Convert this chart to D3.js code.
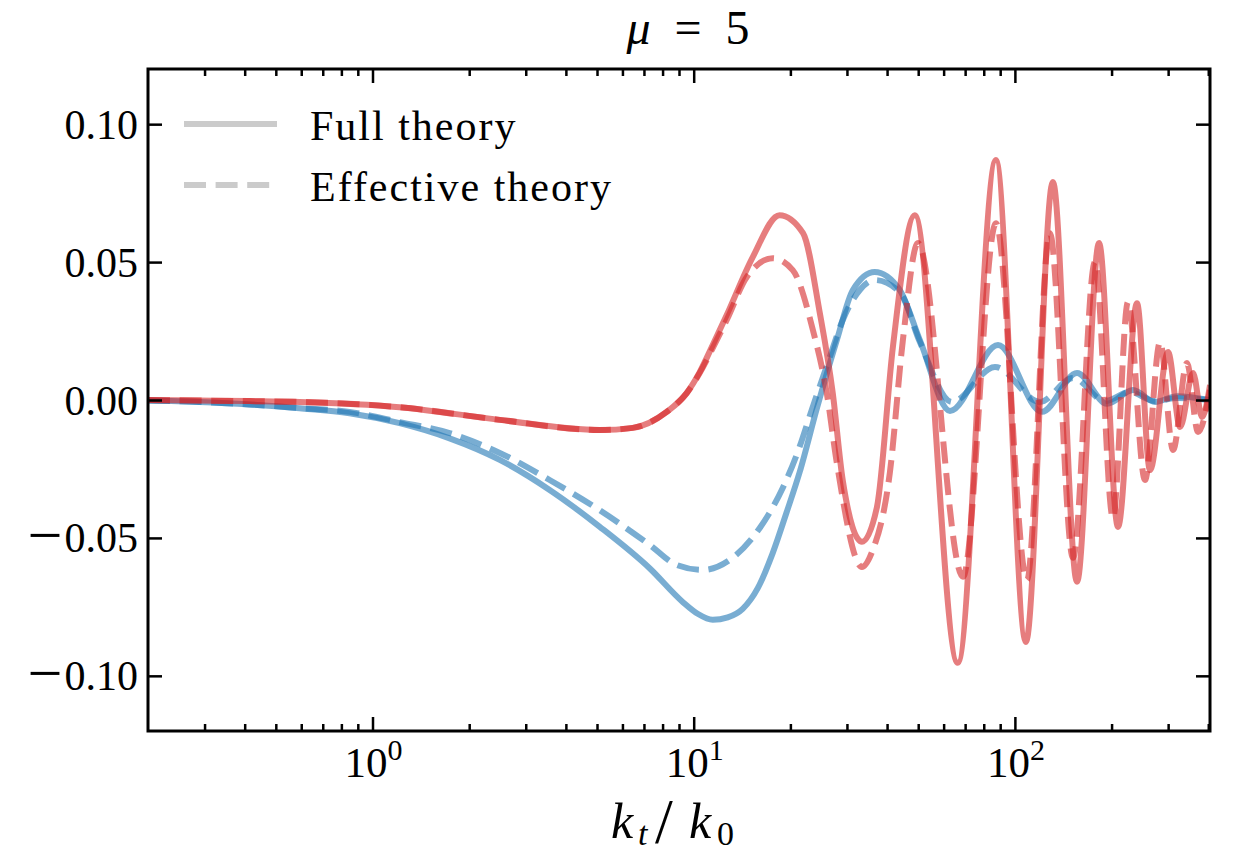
<!DOCTYPE html>
<html>
<head>
<meta charset="utf-8">
<script src="https://cdn.jsdelivr.net/npm/d3@7"></script>
<style>
  body { margin: 0; background: #fff; }
  text { font-family: "Liberation Serif", "DejaVu Serif", serif; fill: #000; }
</style>
</head>
<body>
<svg id="chart" width="1236" height="857"></svg>
<script>
// values: [k_t/k_0, value]
const blueFull = [
  [0.2, -0.0002], [0.289, -0.0007], [0.414, -0.0016], [0.593, -0.0030], [0.848, -0.0048],
  [1.214, -0.0084], [1.738, -0.0139], [2.49, -0.0217], [3.56, -0.0326], [5.09, -0.0459],
  [7.29, -0.0610], [9.24, -0.0732], [10.29, -0.0775], [11.46, -0.0797], [12.76, -0.0788],
  [14.21, -0.0757], [15.83, -0.0682], [17.62, -0.0555], [19.48, -0.0406], [21.38, -0.0261],
  [24.2, -0.0029], [27.9, 0.0217], [31.3, 0.0399], [36.6, 0.0464], [43.8, 0.0399],
  [50.6, 0.0217], [62.8, -0.0040], [88.6, 0.0199], [121.4, -0.0043], [156.1, 0.0098],
  [193.6, -0.0014], [233.2, 0.0036], [273.1, -0.0007], [320, 0.0014], [405, 0]
];
const blueEff = [
  [0.2, -0.0002], [0.289, -0.0007], [0.414, -0.0016], [0.593, -0.0029], [0.848, -0.0043],
  [1.214, -0.0080], [1.738, -0.0120], [2.49, -0.0192], [3.56, -0.0290], [5.09, -0.0399],
  [7.29, -0.0525], [8.85, -0.0598], [10.66, -0.0616], [13.22, -0.0572], [16.06, -0.0464],
  [18.93, -0.0319], [21.09, -0.0188], [23.31, -0.0036], [26.15, 0.0134], [29.12, 0.0290],
  [32.9, 0.0399], [36.6, 0.0435], [43.8, 0.0391], [50.6, 0.0210], [63.7, -0.0007],
  [86.7, 0.0120], [119.7, -0.0007], [151.7, 0.0080], [190.6, -0.0004], [228, 0.0029],
  [273.1, -0.0004], [320, 0.0007], [405, 0]
];
const redFull = [
  [0.2, 0], [0.289, -0.0002], [0.414, -0.0004], [0.593, -0.0007], [1.214, -0.0026],
  [2.49, -0.0072], [5.09, -0.0109], [6.46, -0.0101], [8.24, -0.0043], [9.51, 0.0025],
  [10.44, 0.0101], [11.46, 0.0199], [12.67, 0.0308], [15.27, 0.0518], [18.5, 0.0670],
  [21.9, 0.0605], [24.7, 0.0315], [27.1, 0.0025], [29.1, -0.0290], [33.4, -0.0514],
  [37.2, -0.0388], [41.7, 0.0192], [48.8, 0.0670], [66.4, -0.0953], [87.3, 0.0870],
  [108.2, -0.0877], [131.3, 0.0790], [156.1, -0.0659], [182.8, 0.0569], [209.4, -0.0460],
  [240, 0.0351], [263.4, -0.0254], [299.8, 0.0174], [326.8, -0.0098], [358.6, 0.0098],
  [382.6, -0.0062], [405, 0.0054]
];
const redEff = [
  [0.2, 0], [0.289, -0.0002], [0.414, -0.0004], [0.593, -0.0007], [1.214, -0.0026],
  [2.49, -0.0072], [5.09, -0.0109], [6.46, -0.0101], [8.24, -0.0043], [9.51, 0.0025],
  [10.44, 0.0098], [11.46, 0.0188], [12.67, 0.0290], [14.63, 0.0446], [17.62, 0.0514],
  [20.34, 0.0471], [23.5, 0.0254], [25.96, 0.0025], [27.9, -0.0228], [33.4, -0.0605],
  [35.9, -0.0551], [40.8, -0.0264], [44.8, 0.0217], [49.9, 0.0569], [68.9, -0.0641],
  [87.3, 0.0641], [109.0, -0.0652], [128.5, 0.0605], [151.7, -0.0572], [177.5, 0.0500],
  [202, -0.0428], [224.9, 0.0355], [254.1, -0.0290], [283.1, 0.0210], [310.8, -0.0181],
  [343.3, 0.0134], [371.7, -0.0116], [405, 0.0036]
];

const yTicks = [-0.10, -0.05, 0, 0.05, 0.10];
const xMajor = [1, 10, 100];
const xMajorExp = ["0", "1", "2"];
const legendLabels = ["Full theory", "Effective theory"];

const svg = d3.select("#chart");
const plotLeft = 148, plotRight = 1210, plotTop = 69, plotBottom = 731;

const x = d3.scaleLog().domain([0.2, 405]).range([plotLeft, plotRight]);
const y = d3.scaleLinear().domain([-0.12, 0.12]).range([plotBottom, plotTop]);

svg.append("clipPath").attr("id", "plot-clip")
  .append("rect").attr("x", plotLeft).attr("y", plotTop)
  .attr("width", plotRight - plotLeft).attr("height", plotBottom - plotTop);

// curves
const line = d3.line()
  .x(d => x(d[0]))
  .y(d => y(d[1]))
  .curve(d3.curveMonotoneX);

const series = [
  { data: blueFull, color: "#1f77b4", dash: null },
  { data: blueEff, color: "#1f77b4", dash: "22,9.6" },
  { data: redFull, color: "#d62728", dash: null },
  { data: redEff, color: "#d62728", dash: "22,9.6" }
];

const plot = svg.append("g").attr("clip-path", "url(#plot-clip)");
series.forEach(s => {
  plot.append("path")
    .attr("d", line(s.data))
    .attr("fill", "none")
    .attr("stroke", s.color)
    .attr("stroke-opacity", 0.6)
    .attr("stroke-width", 6)
    .attr("stroke-dasharray", s.dash);
});

// axes, ticks pointing inward on all four sides
const minor = x.ticks().filter(t => !xMajor.includes(t) && t > 0.2 && t < 405);

function styleAxis(g) {
  g.select(".domain").remove();
  g.selectAll(".tick line").attr("stroke", "#000").attr("stroke-width", 2.5);
}

[plotBottom, plotTop].forEach((yy, i) => {
  const mk = i === 0 ? d3.axisBottom : d3.axisTop;
  svg.append("g").attr("transform", `translate(0,${yy})`)
    .call(mk(x).tickValues(xMajor).tickSize(-14).tickFormat(""))
    .call(styleAxis);
  svg.append("g").attr("transform", `translate(0,${yy})`)
    .call(mk(x).tickValues(minor).tickSize(-7).tickFormat(""))
    .call(styleAxis);
});

// y tick labels, wide minus like the math font
const fmt = d3.format(".2f");
svg.append("g").attr("transform", `translate(${plotLeft},0)`)
  .call(d3.axisLeft(y).tickValues(yTicks).tickSize(-14).tickPadding(10).tickFormat(""))
  .call(styleAxis)
  .call(g => g.selectAll(".tick text").each(function(d) {
    const t = d3.select(this)
      .attr("font-family", "Liberation Serif")
      .attr("font-size", 42)
      .attr("dy", null);
    if (d < 0) {
      t.append("tspan").attr("font-size", 62).attr("dy", 18).attr("letter-spacing", 2).text("\u2212");
      t.append("tspan").attr("dy", -4).text(fmt(Math.abs(d)));
    } else {
      t.append("tspan").attr("dy", 14).text(fmt(d));
    }
  }));

svg.append("g").attr("transform", `translate(${plotRight},0)`)
  .call(d3.axisRight(y).tickValues(yTicks).tickSize(-14).tickFormat(""))
  .call(styleAxis);

// x tick labels 10^n
xMajor.forEach((v, i) => {
  const t = svg.append("text")
    .attr("x", x(v) + 1)
    .attr("y", 777)
    .attr("text-anchor", "middle")
    .attr("font-size", 43);
  t.append("tspan").text("10");
  t.append("tspan").attr("dy", -17).attr("font-size", 30).text(xMajorExp[i]);
});

// frame
svg.append("rect")
  .attr("x", plotLeft).attr("y", plotTop)
  .attr("width", plotRight - plotLeft).attr("height", plotBottom - plotTop)
  .attr("fill", "none").attr("stroke", "#000").attr("stroke-width", 3);

// title
const title = svg.append("text")
  .attr("x", 688).attr("y", 44)
  .attr("text-anchor", "middle")
  .attr("font-size", 48);
title.append("tspan").attr("font-style", "italic").text("μ");
title.append("tspan").text("\u2002=\u20025");

// x label
const xl = svg.append("text")
  .attr("y", 838)
  .attr("font-size", 50);
xl.append("tspan").attr("x", 611).attr("font-style", "italic").text("k");
xl.append("tspan").attr("x", 638).attr("dy", 7).attr("font-style", "italic").attr("font-size", 34).text("t");
xl.append("tspan").attr("x", 655).attr("dy", -2).attr("font-size", 64).text("/");
xl.append("tspan").attr("x", 689).attr("dy", -5).attr("font-style", "italic").text("k");
xl.append("tspan").attr("x", 717).attr("dy", 7).attr("font-size", 34).text("0");

// legend
const legend = svg.append("g");
legendLabels.forEach((label, i) => {
  const ly = 124 + i * 61;
  legend.append("line")
    .attr("x1", 184).attr("x2", 277)
    .attr("y1", ly).attr("y2", ly)
    .attr("stroke", "#cbcbcb")
    .attr("stroke-width", 6)
    .attr("stroke-dasharray", i === 1 ? "22,9.6" : null);
  legend.append("text")
    .attr("x", 310).attr("y", ly + 16)
    .attr("font-size", 42)
    .attr("letter-spacing", 2)
    .text(label);
});
</script>
</body>
</html>
